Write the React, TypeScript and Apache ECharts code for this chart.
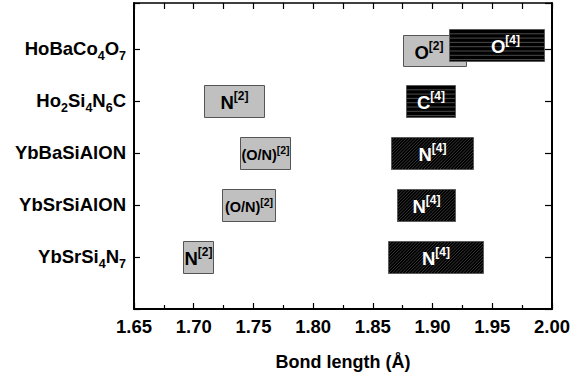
import React, { useEffect, useRef } from "react";
import * as echarts from "echarts";

// Rows (bottom to top), y position = index + 1
const compounds = ["YbSrSi4N7", "YbSrSiAlON", "YbBaSiAlON", "Ho2Si4N6C", "HoBaCo4O7"];
const compoundLabels = [
  "YbSrSi{s|4}N{s|7}",
  "YbSrSiAlON",
  "YbBaSiAlON",
  "Ho{s|2}Si{s|4}N{s|6}C",
  "HoBaCo{s|4}O{s|7}",
];

const xTicks = [1.65, 1.7, 1.75, 1.8, 1.85, 1.9, 1.95, 2.0];

// two-fold coordinated (grey) boxes
const twoFoldRow = [5, 4, 3, 2, 1];
const twoFoldMin = [1.875, 1.709, 1.739, 1.724, 1.691];
const twoFoldMax = [1.928, 1.759, 1.781, 1.768, 1.716];
const twoFoldAtom = ["O", "N", "(O/N)", "(O/N)", "N"];
const twoFoldShift = [-0.035, 0, 0, 0, 0];
const twoFoldLabelAt = [1.897, null, null, null, null];

// four-fold coordinated (black) boxes
const fourFoldRow = [5, 4, 3, 2, 1];
const fourFoldMin = [1.914, 1.878, 1.865, 1.87, 1.863];
const fourFoldMax = [1.9935, 1.919, 1.934, 1.919, 1.942];
const fourFoldAtom = ["O", "C", "N", "N", "N"];
const fourFoldHatch = ["h", "h", "d", "d", "d"];
const fourFoldShift = [0.067, 0, 0, 0, 0];
const fourFoldLabelAt = [1.961, null, null, null, null];

const FONT = "'Liberation Sans', Arial, Helvetica, sans-serif";
const HALF_H = 0.305;

function makeRender(kind: "two" | "four") {
  return (params: any, api: any) => {
    const i = params.dataIndex;
    const row = api.value(0);
    const lo = api.value(1);
    const hi = api.value(2);
    const shift = api.value(3);
    const p1 = api.coord([lo, row + shift + HALF_H]);
    const p2 = api.coord([hi, row + shift - HALF_H]);
    const x0 = Math.round(p1[0]) + 0.5;
    const y0 = Math.round(p1[1]) + 0.5;
    const x1 = Math.round(p2[0]) + 0.5;
    const y1 = Math.round(p2[1]) + 0.5;
    const children: any[] = [];
    const isTwo = kind === "two";
    children.push({
      type: "rect",
      shape: { x: x0, y: y0, width: x1 - x0, height: y1 - y0 },
      style: { fill: isTwo ? "#c0c0c0" : "#000000", stroke: null },
    });
    if (!isTwo) {
      const hatch = fourFoldHatch[i];
      if (hatch === "h") {
        for (let y = y0 + 4.3; y < y1 - 1; y += 4.3) {
          children.push({
            type: "line",
            shape: { x1: x0, y1: y, x2: x1, y2: y },
            style: { stroke: "#4a4a4a", lineWidth: 1 },
          });
        }
      } else {
        const step = 3.2;
        for (let c = x0 + y0 + step; c < x1 + y1; c += step) {
          const ax = Math.max(x0, c - y1);
          const bx = Math.min(x1, c - y0);
          if (bx <= ax) continue;
          children.push({
            type: "line",
            shape: { x1: ax, y1: c - ax, x2: bx, y2: c - bx },
            style: { stroke: "#3c3c3c", lineWidth: 0.9 },
          });
        }
      }
    }
    children.push({
      type: "rect",
      shape: { x: x0, y: y0, width: x1 - x0, height: y1 - y0 },
      style: { fill: null, stroke: isTwo ? "#555555" : "#5a5a5a", lineWidth: 1 },
    });
    const atom = isTwo ? twoFoldAtom[i] : fourFoldAtom[i];
    const labelAt = isTwo ? twoFoldLabelAt[i] : fourFoldLabelAt[i];
    const cx = labelAt != null ? api.coord([labelAt, row])[0] : (x0 + x1) / 2;
    const cy = (y0 + y1) / 2;
    const small = atom.length > 2;
    const color = isTwo ? "#000000" : "#ffffff";
    const sup = isTwo ? "[2]" : "[4]";
    children.push({
      type: "text",
      x: cx,
      y: cy + 1,
      style: {
        text: `{m|${atom}}{s|${sup}}`,
        align: "center",
        verticalAlign: "middle",
        rich: {
          m: {
            fontSize: small ? 14.5 : 18.5,
            fontWeight: "bold",
            fontFamily: FONT,
            fill: color,
            lineHeight: small ? 20 : 25,
          },
          s: {
            fontSize: small ? 10.5 : 12,
            fontWeight: "bold",
            fontFamily: FONT,
            fill: color,
            verticalAlign: "top",
          },
        },
      },
    });
    return { type: "group", children };
  };
}

export default function App() {
  const ref = useRef<HTMLDivElement>(null);
  useEffect(() => {
    document.body.style.margin = "0";
    const chart = echarts.init(ref.current!, null, { renderer: "svg" });
    const twoData = twoFoldRow.map((r, i) => [r, twoFoldMin[i], twoFoldMax[i], twoFoldShift[i]]);
    const fourData = fourFoldRow.map((r, i) => [r, fourFoldMin[i], fourFoldMax[i], fourFoldShift[i]]);
    const axisCommon = {
      type: "value" as const,
      min: xTicks[0],
      max: xTicks[xTicks.length - 1],
      interval: 0.05,
    };
    chart.setOption({
      animation: false,
      backgroundColor: "#ffffff",
      grid: { left: 134, right: 34, top: 3, bottom: 72, containLabel: false },
      xAxis: [
        {
          ...axisCommon,
          position: "bottom",
          name: "Bond length (Å)",
          nameLocation: "middle",
          nameGap: 44,
          nameTextStyle: { fontSize: 18, fontWeight: "bold", fontFamily: FONT, color: "#000" },
          axisLine: { show: true, onZero: false, lineStyle: { color: "#000", width: 2 } },
          axisTick: { show: true, inside: true, length: 6, lineStyle: { color: "#000", width: 1.2 } },
          minorTick: { show: true, splitNumber: 2, length: 4, lineStyle: { color: "#000", width: 1.2 } },
          splitLine: { show: false },
          axisLabel: {
            margin: 8,
            fontSize: 18.5,
            fontWeight: "bold",
            fontFamily: FONT,
            color: "#000",
            formatter: (v: number) => v.toFixed(2),
          },
        },
        {
          ...axisCommon,
          position: "top",
          axisLine: { show: true, onZero: false, lineStyle: { color: "#000", width: 1.5 } },
          axisTick: { show: true, inside: true, length: 6, lineStyle: { color: "#000", width: 1.2 } },
          minorTick: { show: true, splitNumber: 2, length: 6, lineStyle: { color: "#000", width: 1.2 } },
          splitLine: { show: false },
          axisLabel: { show: false },
        },
      ],
      yAxis: [
        {
          type: "value",
          min: 0,
          max: 5.88,
          interval: 1,
          position: "left",
          axisLine: { show: true, onZero: false, lineStyle: { color: "#000", width: 2 } },
          axisTick: { show: true, inside: true, length: 6, lineStyle: { color: "#000", width: 1.2 } },
          splitLine: { show: false },
          axisLabel: {
            margin: 8,
            fontSize: 18.5,
            fontWeight: "bold",
            fontFamily: FONT,
            color: "#000",
            formatter: (v: number) => {
              const k = Math.round(v);
              if (Math.abs(v - k) > 1e-6 || k < 1 || k > compounds.length) return "";
              return compoundLabels[k - 1];
            },
            rich: {
              s: {
                fontSize: 12.5,
                fontWeight: "bold",
                fontFamily: FONT,
                color: "#000",
                verticalAlign: "bottom",
                lineHeight: 27,
              },
            },
          },
        },
        {
          type: "value",
          min: 0,
          max: 5.88,
          interval: 1,
          position: "right",
          axisLine: { show: true, onZero: false, lineStyle: { color: "#000", width: 2 } },
          axisTick: { show: true, inside: true, length: 7, lineStyle: { color: "#000", width: 1.2 } },
          splitLine: { show: false },
          axisLabel: { show: false },
        },
      ],
      series: [
        {
          type: "custom",
          name: "two-fold",
          renderItem: makeRender("two"),
          data: twoData,
          encode: { x: [1, 2], y: 0 },
          clip: false,
          z: 2,
        },
        {
          type: "custom",
          name: "four-fold",
          renderItem: makeRender("four"),
          data: fourData,
          encode: { x: [1, 2], y: 0 },
          clip: false,
          z: 3,
        },
      ],
    });
    return () => chart.dispose();
  }, []);
  return <div ref={ref} style={{ width: 586, height: 381 }} />;
}
